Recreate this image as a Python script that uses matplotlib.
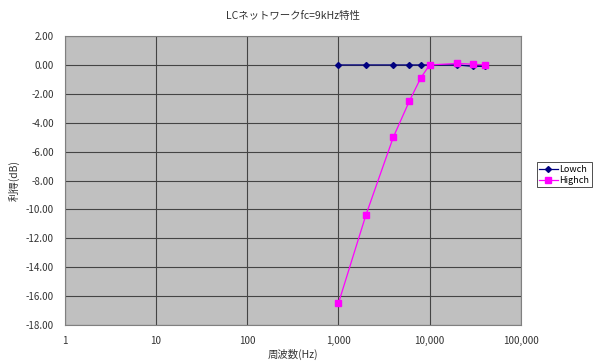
import matplotlib
matplotlib.use("Agg")
import matplotlib.pyplot as plt
from matplotlib.ticker import FuncFormatter, FixedLocator, NullLocator

plt.rcParams['font.family'] = ['Noto Sans CJK JP', 'DejaVu Sans']

# data
freq = [1000, 2000, 4000, 6000, 8000, 10000, 20000, 30000, 40000]
lowch = [0.0, 0.0, 0.0, 0.0, 0.0, 0.0, 0.0, -0.1, -0.1]
highch = [-16.5, -10.4, -5.0, -2.5, -0.9, 0.0, 0.1, 0.05, 0.0]

xticks = [1, 10, 100, 1000, 10000, 100000]
yticks = [2, 0, -2, -4, -6, -8, -10, -12, -14, -16, -18]

fig = plt.figure(figsize=(6, 3.64), dpi=100)
ax = fig.add_axes([0.108, 0.107, 0.76, 0.794])
ax.set_facecolor('#c0c0c0')

ax.plot(freq, lowch, color='#000080', marker='D', markersize=3, linewidth=0.9, label='Lowch')
ax.plot(freq, highch, color='#ff00ff', marker='s', markersize=3.8, linewidth=0.9, label='Highch')

ax.set_xscale('log')
ax.set_xlim(1, 100000)
ax.set_ylim(-18, 2)
ax.xaxis.set_major_locator(FixedLocator(xticks))
ax.xaxis.set_minor_locator(NullLocator())
ax.yaxis.set_major_locator(FixedLocator(yticks))
ax.xaxis.set_major_formatter(FuncFormatter(lambda v, p: f"{int(round(v)):,}"))
ax.yaxis.set_major_formatter(FuncFormatter(lambda v, p: f"{v:.2f}"))
ax.tick_params(labelsize=7, length=0, pad=8, colors='#333333')
ax.grid(True, color='#444444', linewidth=0.8)
ax.set_axisbelow(True)
for s in ax.spines.values():
    s.set_color('#808080')

ax.set_title('LCネットワークfc=9kHz特性', fontsize=7.5, pad=12, color='#333333')
ax.set_xlabel('周波数(Hz)', fontsize=7.5, labelpad=2, color='#333333')
ax.set_ylabel('利得(dB)', fontsize=7.5, labelpad=4, color='#333333')

leg = ax.legend(loc='center left', bbox_to_anchor=(1.035, 0.52), fontsize=6.5, frameon=True,
                fancybox=False, edgecolor='#000000', borderpad=0.3, handlelength=2.0,
                handletextpad=0.2, labelspacing=0.2, borderaxespad=0)
leg.get_frame().set_linewidth(0.6)

fig.savefig('out.png', dpi=100)
